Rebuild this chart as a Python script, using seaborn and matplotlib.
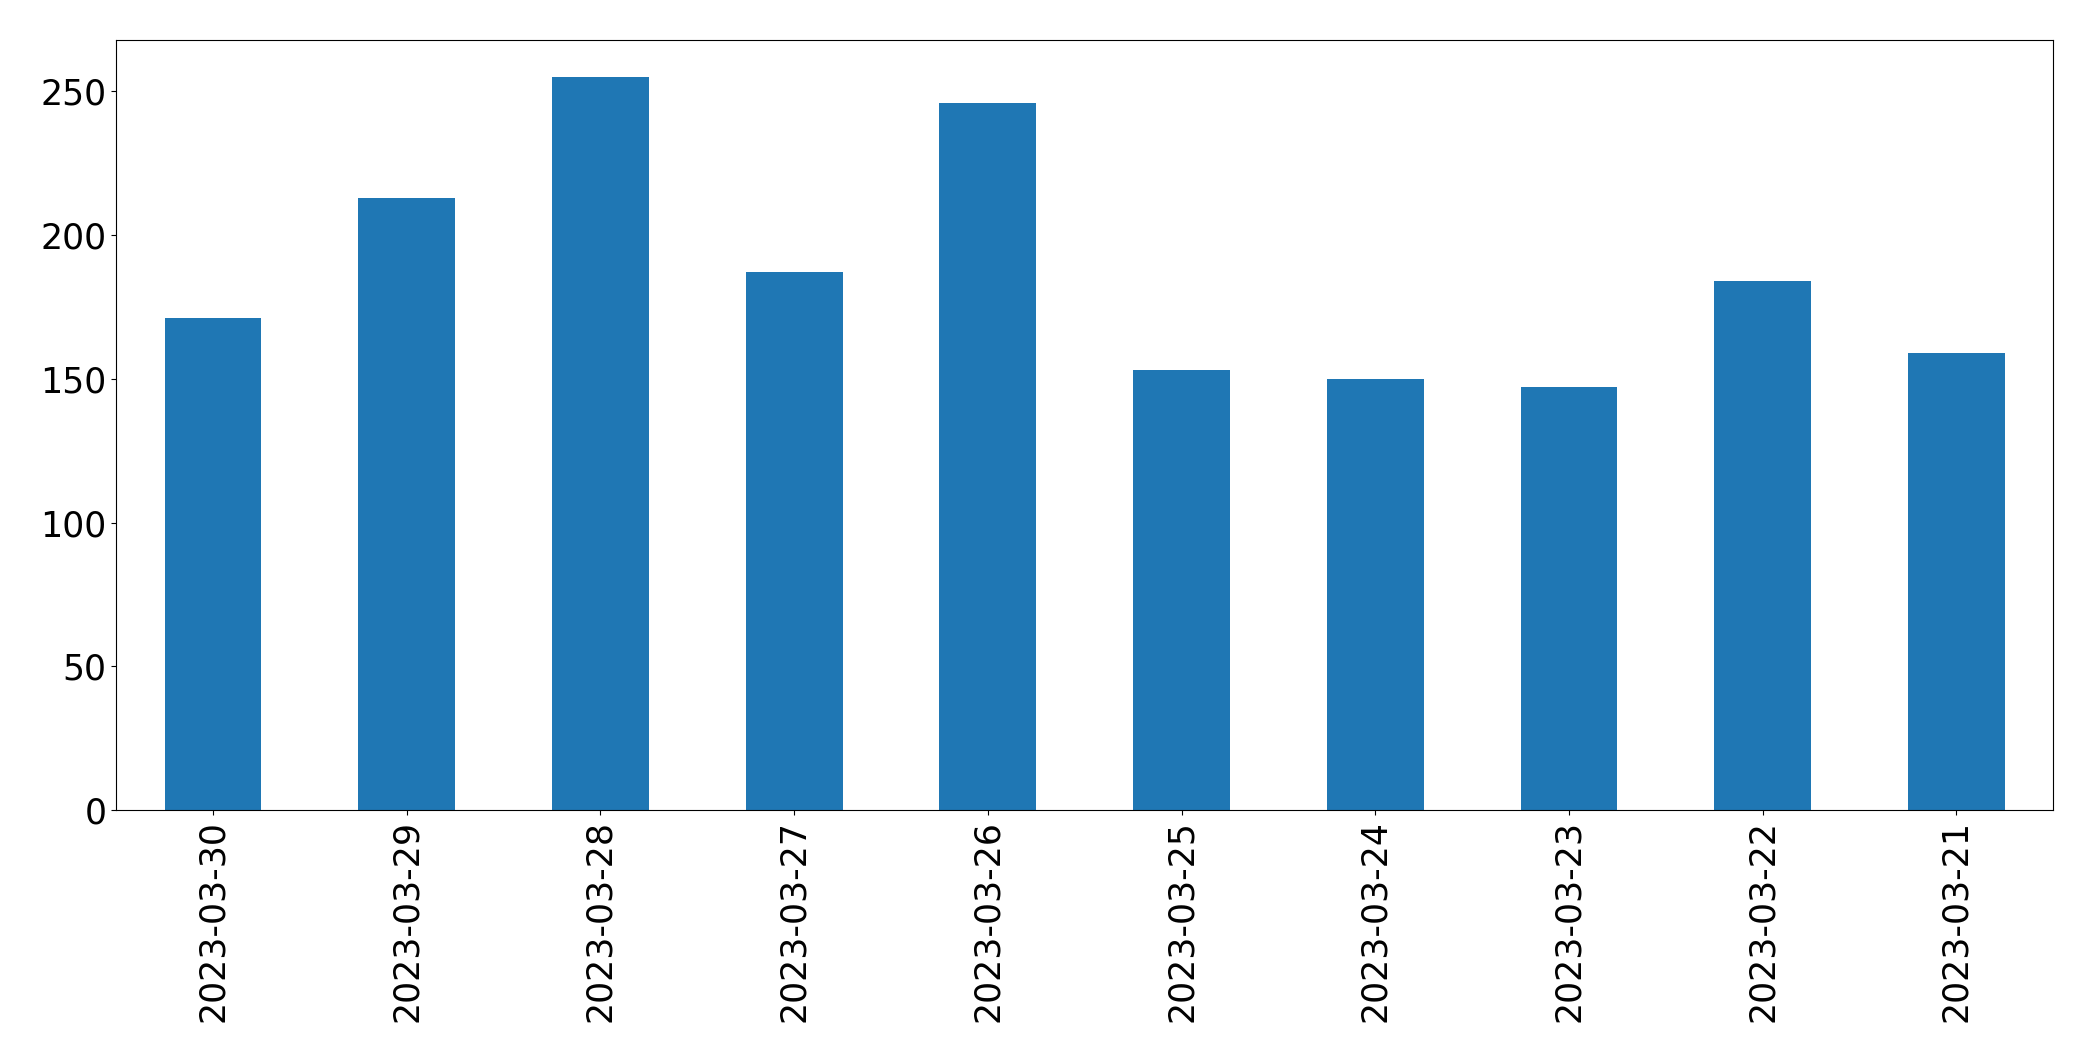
import seaborn as sns
import pandas as pd
import matplotlib.pyplot as plt

dates = ['2023-03-30', '2023-03-29', '2023-03-28', '2023-03-27', '2023-03-26',
         '2023-03-25', '2023-03-24', '2023-03-23', '2023-03-22', '2023-03-21']
counts = [171, 213, 255, 187, 246, 153, 150, 147, 184, 159]

df = pd.DataFrame({'date': dates, 'count': counts})

fig, ax = plt.subplots(figsize=(20.93, 10.61), dpi=100)
sns.barplot(x='date', y='count', data=df, order=dates, color='#1f77b4',
            saturation=1, width=0.5, errorbar=None, linewidth=0, ax=ax)
ax.set_xlabel('')
ax.set_ylabel('')
ax.set_xlim(-0.5, len(dates) - 0.5)
ax.set_ylim(0, max(counts) * 1.05)
ax.tick_params(axis='both', labelsize=25)
ax.tick_params(axis='x', labelrotation=90)
plt.subplots_adjust(left=0.0555, right=0.981, top=0.962, bottom=0.2365)
plt.savefig('out.png')
